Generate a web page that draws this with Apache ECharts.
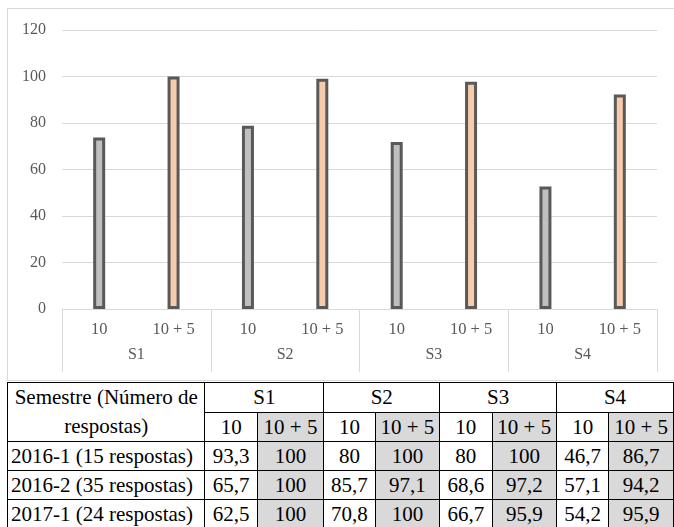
<!DOCTYPE html>
<html>
<head>
<meta charset="utf-8">
<script src="https://cdn.jsdelivr.net/npm/echarts@6/dist/echarts.min.js"></script>
<style>
  html, body { margin: 0; padding: 0; background: #fff; width: 674px; height: 527px; overflow: hidden; position: relative; }
  #frame { position: absolute; left: 7px; top: 8px; width: 700px; height: 371px; border-top: 1px solid #d9d9d9; border-left: 1px solid #d9d9d9; border-bottom: 1px solid #d9d9d9; }
  #chart { position: absolute; left: 0; top: 0; width: 674px; height: 382px; }
  table { position: absolute; left: 7px; top: 382px; border-collapse: collapse; font-family: "Times New Roman", "Liberation Serif", Times, "DejaVu Serif", serif; font-size: 21px; color: #000; table-layout: fixed; }
  td { border: 1px solid #000; text-align: center; padding: 0; height: 28px; line-height: 28px; white-space: nowrap; overflow: hidden; }
  td.g { background: #d9d9d9; }
  td.first { text-align: left; padding-left: 3px; }
  td.sep { border-left-color: #999; }
</style>
</head>
<body>
<div id="frame"></div>
<div id="chart"></div>
<table id="tbl"></table>
<script>
// ---- data ----
const groups = ["S1", "S2", "S3", "S4"];
const subCats = ["10", "10 + 5"];
const values10 = [73.8, 78.8, 71.8, 52.7];
const values105 = [100, 99.0, 97.7, 92.3];
const yTicks = [0, 20, 40, 60, 80, 100, 120];

const tableHeader = "Semestre (Número de<br>respostas)";
const rowLabels = ["2016-1 (15 respostas)", "2016-2 (35 respostas)", "2017-1 (24 respostas)"];
const row1 = ["93,3", "100", "80", "100", "80", "100", "46,7", "86,7"];
const row2 = ["65,7", "100", "85,7", "97,1", "68,6", "97,2", "57,1", "94,2"];
const row3 = ["62,5", "100", "70,8", "100", "66,7", "95,9", "54,2", "95,9"];

// ---- chart ----
const innerCats = [];
const s10 = [], s105 = [];
groups.forEach((g, i) => {
  innerCats.push(subCats[0], subCats[1]);
  s10.push(values10[i], null);
  s105.push(null, values105[i]);
});

const serif = "'Times New Roman', 'Liberation Serif', Times, 'DejaVu Serif', serif";
const labelFont = { fontFamily: serif, fontSize: 16, color: "#595959" };
const chart = echarts.init(document.getElementById("chart"), null, { renderer: "canvas" });
chart.setOption({
  animation: false,
  textStyle: { fontFamily: serif },
  grid: { left: 62, right: 17, top: 30, height: 279, containLabel: false },
  xAxis: [
    {
      type: "category", data: innerCats, position: "bottom",
      axisLine: { show: true, lineStyle: { color: "#d9d9d9", width: 1 } },
      axisTick: { show: false },
      axisLabel: Object.assign({ interval: 0, margin: 12 }, labelFont, { fontSize: 16.5 })
    },
    {
      type: "category", data: groups, position: "bottom",
      axisLine: { show: false },
      axisTick: { show: true, length: 63, interval: 0, lineStyle: { color: "#d9d9d9" } },
      axisLabel: Object.assign({ interval: 0, margin: 38 }, labelFont)
    }
  ],
  yAxis: {
    type: "value", min: yTicks[0], max: yTicks[yTicks.length - 1], interval: 20,
    axisLine: { show: false }, axisTick: { show: false },
    splitLine: { lineStyle: { color: "#d9d9d9", width: 1 } },
    axisLabel: Object.assign({ margin: 16 }, labelFont)
  },
  series: [
    { name: "10", type: "bar", xAxisIndex: 0, data: s10, barWidth: 12, barGap: "-100%",
      itemStyle: { color: "#bfbfbf", borderColor: "#595959", borderWidth: 3 } },
    { name: "10 + 5", type: "bar", xAxisIndex: 0, data: s105, barWidth: 12, barGap: "-100%",
      itemStyle: { color: "#f8cbad", borderColor: "#595959", borderWidth: 3 } }
  ]
});

// ---- table ----
const colWidths = [198, 53, 67, 52, 65, 53, 65, 53, 65];
let html = "<colgroup>" + colWidths.map(w => `<col style="width:${w}px">`).join("") + "</colgroup>";
html += `<tr><td rowspan="2" style="height:58px;line-height:29px">${tableHeader}</td>` +
  groups.map((g, i) => `<td colspan="2" class="${i > 0 ? 'sep' : ''}" style="height:28px">${g}</td>`).join("") + "</tr>";
html += "<tr>" + groups.map(() => `<td>${subCats[0]}</td><td class="g">${subCats[1]}</td>`).join("") + "</tr>";
[row1, row2, row3].forEach((r, ri) => {
  html += `<tr><td class="first">${rowLabels[ri]}</td>` + r.map((v, i) => `<td class="${i % 2 ? 'g' : ''}">${v}</td>`).join("") + "</tr>";
});
document.getElementById("tbl").innerHTML = html;
</script>
</body>
</html>
